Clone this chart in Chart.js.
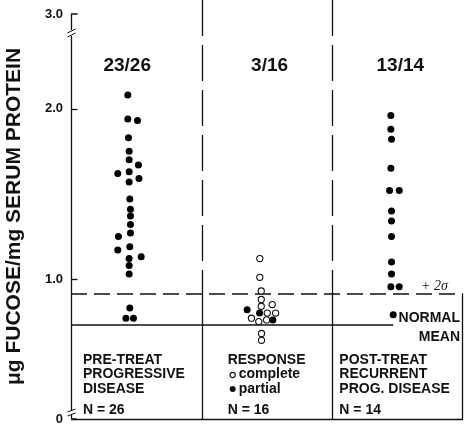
<!DOCTYPE html>
<html>
<head>
<meta charset="utf-8">
<script src="https://cdn.jsdelivr.net/npm/chart.js@4.4.0/dist/chart.umd.min.js"></script>
<style>
  body { margin: 0; background: #fff; }
  #wrap { width: 469px; height: 426px; }
</style>
</head>
<body>
<div id="wrap"><canvas id="fucose" width="469" height="426"></canvas></div>
<script>
// serum fucose per patient, grouped by clinical status (x = group position with spread)
const preTreatX = [0.935, 0.935, 1.009, 0.94, 0.945, 0.945, 1.016, 0.858, 0.945, 1.02, 0.945, 0.95, 0.955,
                   0.955, 0.955, 0.955, 0.863, 0.95, 0.858, 0.945, 1.037, 0.945, 0.945, 0.95, 0.92, 0.978];
const preTreatY = [2.08, 1.94, 1.93, 1.83, 1.75, 1.70, 1.67, 1.62, 1.63, 1.59, 1.57, 1.47, 1.41,
                   1.37, 1.32, 1.27, 1.25, 1.19, 1.17, 1.12, 1.13, 1.08, 1.03, 0.83, 0.77, 0.77];

const completeX = [1.945, 1.945, 1.956, 1.956, 1.956, 2.04, 2.002, 2.066, 1.881, 1.937, 1.997, 1.958, 1.958];
const completeY = [1.12, 1.01, 0.93, 0.88, 0.84, 0.85, 0.80, 0.80, 0.77, 0.75, 0.76, 0.68, 0.64];
const partialX = [1.848, 1.943, 2.045];
const partialY = [0.82, 0.80, 0.76];

const postTreatX = [2.948, 2.948, 2.953, 2.948, 2.938, 3.012, 2.953, 2.953, 2.953, 2.953, 2.953, 2.948, 3.012, 2.966];
const postTreatY = [1.96, 1.88, 1.82, 1.65, 1.52, 1.52, 1.40, 1.34, 1.25, 1.10, 1.03, 0.955, 0.955, 0.79];

const NORMAL_MEAN = 0.73;
const TWO_SIGMA = 0.912;

// broken axis: ends of the scale carry the "0" and "3.0" labels
const Y_MIN = 0.178;
const Y_MAX = 2.556;
const tickValues = [Y_MIN, 1, 2, Y_MAX];
const tickLabels = ['0', '1.0', '2.0', '3.0'];

const groupLabels = [
  ['PRE-TREAT', 'PROGRESSIVE', 'DISEASE'],
  ['RESPONSE'],
  ['POST-TREAT', 'RECURRENT', 'PROG. DISEASE']
];

const BOLD = "'Liberation Sans', Arial, Helvetica, sans-serif";

const pts = (xs, ys) => xs.map((x, i) => ({ x, y: ys[i] }));
const above = ys => ys.filter(v => v > TWO_SIGMA).length;

const preTreat = pts(preTreatX, preTreatY);
const complete = pts(completeX, completeY);
const partial = pts(partialX, partialY);
const postTreat = pts(postTreatX, postTreatY);
const meanEndX = postTreatX[postTreatX.length - 1];

const ratios = [
  above(preTreatY) + '/' + preTreatY.length,
  above(completeY.concat(partialY)) + '/' + (completeY.length + partialY.length),
  above(postTreatY) + '/' + postTreatY.length
];
const counts = [preTreatY.length, completeY.length + partialY.length, postTreatY.length];

const filledDot = { pointRadius: 3.5, pointBackgroundColor: '#000', pointBorderColor: '#000', pointBorderWidth: 0 };

const annotations = {
  id: 'annotations',
  beforeDatasetsDraw(chart) {
    const { ctx, chartArea: a, scales: { x, y } } = chart;
    const ySig = y.getPixelForValue(TWO_SIGMA);
    ctx.save();
    ctx.strokeStyle = '#111';
    ctx.lineWidth = 1.3;

    // group dividers: dashed above the +2σ line, solid below
    [1.5, 2.5].forEach(v => {
      const px = Math.round(x.getPixelForValue(v)) + 0.5;
      ctx.setLineDash([36, 9]);
      ctx.beginPath(); ctx.moveTo(px, 0); ctx.lineTo(px, ySig); ctx.stroke();
      ctx.setLineDash([]);
      ctx.beginPath(); ctx.moveTo(px, ySig); ctx.lineTo(px, a.bottom); ctx.stroke();
    });

    // frame: bottom and right edge of the lower box
    ctx.beginPath();
    ctx.moveTo(a.left, a.bottom + 0.5); ctx.lineTo(a.right, a.bottom + 0.5);
    ctx.moveTo(a.right - 0.5, ySig); ctx.lineTo(a.right - 0.5, a.bottom);
    ctx.stroke();

    // y axis with break marks near both ends
    const ax = a.left + 0.5;
    const yTop = y.getPixelForValue(Y_MAX);
    const yBot = y.getPixelForValue(Y_MIN);
    ctx.beginPath();
    ctx.moveTo(ax + 6, yTop); ctx.lineTo(ax, yTop); ctx.lineTo(ax, yTop + 16);
    ctx.moveTo(ax, yTop + 22); ctx.lineTo(ax, yBot - 9);
    ctx.moveTo(ax, yBot - 4); ctx.lineTo(ax, yBot - 1); ctx.quadraticCurveTo(ax, yBot, ax + 5, yBot);
    ctx.stroke();
    ctx.lineWidth = 1;
    [[yTop + 15, yTop + 19], [yTop + 19, yTop + 23], [yBot - 10, yBot - 7], [yBot - 6, yBot - 3]].forEach(([y0, y1]) => {
      ctx.beginPath(); ctx.moveTo(ax - 4, y1); ctx.lineTo(ax + 4, y0); ctx.stroke();
    });
    ctx.lineWidth = 1.3;
    [1, 2].forEach(v => {
      const py = Math.round(y.getPixelForValue(v)) + 0.5;
      ctx.beginPath(); ctx.moveTo(ax, py); ctx.lineTo(ax + 6, py); ctx.stroke();
    });
    ctx.restore();
  },
  afterDatasetsDraw(chart) {
    const { ctx, chartArea: a, scales: { x, y } } = chart;
    ctx.save();
    ctx.fillStyle = '#111';
    ctx.textBaseline = 'middle';

    // proportion above +2σ per group
    ctx.font = 'bold 19px ' + BOLD;
    ctx.textAlign = 'center';
    [0.93, 2.02, 3.02].forEach((v, i) => ctx.fillText(ratios[i], x.getPixelForValue(v), 66));

    // +2σ and normal mean tags
    ctx.font = 'italic 14px "Liberation Serif", "Times New Roman", serif';
    ctx.textAlign = 'left';
    ctx.fillText('+ 2σ', a.right - 42, y.getPixelForValue(TWO_SIGMA) - 8);
    ctx.font = 'bold 14px ' + BOLD;
    ctx.textAlign = 'right';
    ctx.fillText('NORMAL', a.right - 3, y.getPixelForValue(NORMAL_MEAN) - 7);
    ctx.fillText('MEAN', a.right - 3, y.getPixelForValue(NORMAL_MEAN) + 12);

    // group descriptions in the lower box
    ctx.textAlign = 'left';
    const lefts = [a.left + 12, x.getPixelForValue(1.5) + 26, x.getPixelForValue(2.5) + 7];
    groupLabels.forEach((lines, i) => {
      lines.forEach((t, j) => ctx.fillText(t, lefts[i], 360 + j * 14.5));
      ctx.fillText('N = ' + counts[i], lefts[i], 410);
    });

    // response legend
    const lx = lefts[1] + 5;
    ctx.lineWidth = 1.1;
    ctx.strokeStyle = '#111';
    ctx.beginPath(); ctx.arc(lx, 375, 2.6, 0, Math.PI * 2); ctx.stroke();
    ctx.beginPath(); ctx.arc(lx, 389, 3, 0, Math.PI * 2); ctx.fill();
    ctx.fillText('complete', lx + 6, 374.5);
    ctx.fillText('partial', lx + 6, 389);
    ctx.restore();
  }
};

new Chart(document.getElementById('fucose'), {
  type: 'scatter',
  data: {
    datasets: [
      { label: 'Pre-treat', data: preTreat, ...filledDot, order: 0 },
      { label: 'Response complete', data: complete, pointRadius: 3.1, pointBackgroundColor: '#fff',
        pointBorderColor: '#111', pointBorderWidth: 1.1, order: 0 },
      { label: 'Response partial', data: partial, ...filledDot, order: 0 },
      { label: 'Post-treat', data: postTreat, ...filledDot, order: 0 },
      { type: 'line', label: '+2 sigma', data: [{ x: 0.5, y: TWO_SIGMA }, { x: 3.5, y: TWO_SIGMA }],
        borderColor: '#111', borderWidth: 1.3, borderDash: [16, 7], pointRadius: 0, order: 5 },
      { type: 'line', label: 'Normal mean', data: [{ x: 0.5, y: NORMAL_MEAN }, { x: meanEndX, y: NORMAL_MEAN }],
        borderColor: '#111', borderWidth: 1.3, pointRadius: 0, order: 5 }
    ]
  },
  options: {
    responsive: false,
    animation: false,
    layout: { autoPadding: false, padding: { top: 14, right: 6, bottom: 7, left: 0 } },
    plugins: { legend: { display: false }, tooltip: { enabled: false } },
    scales: {
      x: { type: 'linear', min: 0.5, max: 3.5, display: false },
      y: {
        type: 'linear',
        min: Y_MIN,
        max: Y_MAX,
        afterBuildTicks: scale => { scale.ticks = tickValues.map(value => ({ value })); },
        afterFit: scale => {
          scale.width = 71;
          scale.paddingTop = 0;
          scale.paddingBottom = 0;
        },
        border: { display: false },
        grid: { display: false, drawTicks: false },
        ticks: {
          padding: 8,
          color: '#111',
          font: { family: BOLD, size: 13, weight: 'bold' },
          callback: (value, index) => tickLabels[index]
        },
        title: {
          display: true,
          text: 'μg FUCOSE/mg SERUM PROTEIN',
          color: '#111',
          font: { family: BOLD, size: 21, weight: 'bold' },
          padding: { top: 2, bottom: 0 }
        }
      }
    }
  },
  plugins: [annotations]
});
</script>
</body>
</html>
